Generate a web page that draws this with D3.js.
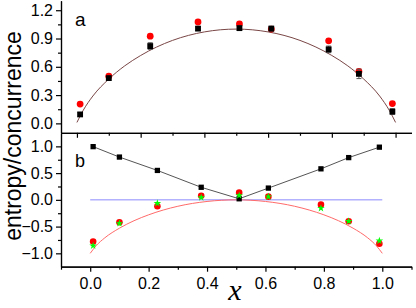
<!DOCTYPE html>
<html>
<head>
<meta charset="utf-8">
<script src="https://cdn.jsdelivr.net/npm/d3@7"></script>
<style>
  body { margin: 0; background: #fff; }
  text { font-family: "Liberation Sans", Arial, sans-serif; }
  .axis path, .axis line { stroke: #000; stroke-width: 1.2; }
</style>
</head>
<body>
<div id="chart"></div>
<script>
// Data
var xs = [0.01, 0.1, 0.23, 0.38, 0.51, 0.61, 0.79, 0.885, 0.99];

// panel a
var redA = [0.205, 0.50, 0.925, 1.075, 1.055, 1.00, 0.875, 0.55, 0.21];
var blackA = [0.095, 0.48, 0.82, 1.005, 1.01, 1.005, 0.785, 0.525, 0.125];
var errA = [0.02, 0.02, 0.035, 0.02, 0.025, 0.025, 0.035, 0.05, 0.03];
var curveX = [0, 0.02, 0.05, 0.1, 0.15, 0.2, 0.3, 0.4, 0.5, 0.6, 0.7, 0.8, 0.85, 0.9, 0.95, 0.98, 1];
var curveA = [0.01, 0.14, 0.29, 0.47, 0.61, 0.72, 0.88, 0.97, 1.0, 0.97, 0.88, 0.72, 0.61, 0.47, 0.29, 0.14, 0.01];

// panel b
var blackB = [0.995, 0.80, 0.55, 0.235, 0.02, 0.22, 0.58, 0.79, 0.985];
var redB = [-0.78, -0.42, -0.12, 0.075, 0.135, 0.06, -0.09, -0.40, -0.82];
var greenB = [-0.86, -0.44, -0.065, 0.045, 0.08, 0.06, -0.155, -0.40, -0.765];
var curveB = [-1.0, -0.86, -0.71, -0.53, -0.39, -0.28, -0.12, -0.03, 0, -0.03, -0.12, -0.28, -0.39, -0.53, -0.71, -0.86, -1.0];
var zeroX = [0, 1];
var zeroY = [0, 0];

var yTicksA = [0, 0.3, 0.6, 0.9, 1.2];
var yTicksB = [-1.0, -0.5, 0, 0.5, 1.0];
var xTicks = [0, 0.2, 0.4, 0.6, 0.8, 1.0];

var width = 416, height = 308;

var svg = d3.select("#chart").append("svg")
  .attr("width", width)
  .attr("height", height);

// Scales
var xa = d3.scaleLinear().domain([-0.05, 1.05]).range([61, 411.5]);
var xb = d3.scaleLinear().domain([-0.1, 1.1]).range([61, 411.5]);
var ya = d3.scaleLinear().domain([-0.1, 1.3]).range([132.8, 0.8]);
var yb = d3.scaleLinear().domain([-1.25, 1.25]).range([266.7, 133]);

var fmt = d3.format(".1f");

// ---- axes panel a
var gA = svg.append("g");
gA.append("g").attr("class", "axis")
  .attr("transform", "translate(61,0)")
  .call(d3.axisLeft(ya).tickValues(yTicksA).tickSize(5).tickSizeOuter(0).tickPadding(3).tickFormat(fmt))
  .call(function(g){ g.selectAll("text").style("font-size", "16px").attr("fill", "#000"); });
gA.append("g").attr("class", "axis")
  .attr("transform", "translate(61,0)")
  .call(d3.axisLeft(ya).tickValues([0.15, 0.45, 0.75, 1.05]).tickSize(3).tickSizeOuter(0).tickFormat(""));
gA.append("g").attr("class", "axis")
  .attr("transform", "translate(0," + ya(-0.1) + ")")
  .call(d3.axisBottom(xa).tickValues(xTicks).tickSize(5).tickSizeOuter(0).tickFormat(""));
gA.append("g").attr("class", "axis")
  .attr("transform", "translate(0," + ya(-0.1) + ")")
  .call(d3.axisBottom(xa).tickValues([0.1, 0.3, 0.5, 0.7, 0.9]).tickSize(3).tickSizeOuter(0).tickFormat(""));

// ---- axes panel b
var gB = svg.append("g");
gB.append("g").attr("class", "axis")
  .attr("transform", "translate(61,0)")
  .call(d3.axisLeft(yb).tickValues(yTicksB).tickSize(5).tickSizeOuter(0).tickPadding(3).tickFormat(fmt))
  .call(function(g){ g.selectAll("text").style("font-size", "16px").attr("fill", "#000"); });
gB.append("g").attr("class", "axis")
  .attr("transform", "translate(61,0)")
  .call(d3.axisLeft(yb).tickValues([-0.75, -0.25, 0.25, 0.75]).tickSize(3).tickSizeOuter(0).tickFormat(""));
gB.append("g").attr("class", "axis")
  .attr("transform", "translate(0," + yb(-1.25) + ")")
  .call(d3.axisBottom(xb).tickValues(xTicks).tickSize(5).tickSizeOuter(0).tickPadding(6).tickFormat(fmt))
  .call(function(g){ g.selectAll("text").style("font-size", "16px").attr("fill", "#000"); });
gB.append("g").attr("class", "axis")
  .attr("transform", "translate(0," + yb(-1.25) + ")")
  .call(d3.axisBottom(xb).tickValues([-0.1, 0.1, 0.3, 0.5, 0.7, 0.9, 1.1]).tickSize(3).tickSizeOuter(0).tickFormat(""));

// ---- panel a marks
var lineA = d3.line()
  .x(function(d){ return xa(d[0]); })
  .y(function(d){ return ya(d[1]); })
  .curve(d3.curveMonotoneX);

gA.append("path")
  .datum(d3.zip(curveX, curveA))
  .attr("d", lineA)
  .attr("fill", "none")
  .attr("stroke", "#7a4646")
  .attr("stroke-width", 1);

gA.selectAll(".redA").data(d3.zip(xs, redA)).enter().append("circle")
  .attr("cx", function(d){ return xa(d[0]); })
  .attr("cy", function(d){ return ya(d[1]); })
  .attr("r", 3.4)
  .attr("fill", "#ff0000");

var err = gA.selectAll(".err").data(d3.zip(xs, blackA, errA)).enter().append("g")
  .attr("stroke", "#555").attr("stroke-width", 1);
err.append("line")
  .attr("x1", function(d){ return xa(d[0]); })
  .attr("x2", function(d){ return xa(d[0]); })
  .attr("y1", function(d){ return ya(d[1] - d[2]); })
  .attr("y2", function(d){ return ya(d[1] + d[2]); });
err.append("line")
  .attr("x1", function(d){ return xa(d[0]) - 2.5; })
  .attr("x2", function(d){ return xa(d[0]) + 2.5; })
  .attr("y1", function(d){ return ya(d[1] - d[2]); })
  .attr("y2", function(d){ return ya(d[1] - d[2]); });
err.append("line")
  .attr("x1", function(d){ return xa(d[0]) - 2.5; })
  .attr("x2", function(d){ return xa(d[0]) + 2.5; })
  .attr("y1", function(d){ return ya(d[1] + d[2]); })
  .attr("y2", function(d){ return ya(d[1] + d[2]); });

var square = d3.symbol().type(d3.symbolSquare);
gA.selectAll(".blackA").data(d3.zip(xs, blackA)).enter().append("path")
  .attr("d", square.size(34)())
  .attr("transform", function(d){ return "translate(" + xa(d[0]) + "," + ya(d[1]) + ")"; })
  .attr("fill", "#000");

// ---- panel b marks
var lineB = d3.line()
  .x(function(d){ return xb(d[0]); })
  .y(function(d){ return yb(d[1]); });

gB.append("path")
  .datum(d3.zip(zeroX, zeroY))
  .attr("d", lineB)
  .attr("fill", "none")
  .attr("stroke", "#8a8aff")
  .attr("stroke-width", 1);

gB.append("path")
  .datum(d3.zip(curveX, curveB))
  .attr("d", lineB.curve(d3.curveMonotoneX))
  .attr("fill", "none")
  .attr("stroke", "#ff6a6a")
  .attr("stroke-width", 1);

gB.append("path")
  .datum(d3.zip(xs, blackB))
  .attr("d", d3.line().x(function(d){ return xb(d[0]); }).y(function(d){ return yb(d[1]); }))
  .attr("fill", "none")
  .attr("stroke", "#555")
  .attr("stroke-width", 1);

gB.selectAll(".blackB").data(d3.zip(xs, blackB)).enter().append("path")
  .attr("d", d3.symbol().type(d3.symbolSquare).size(28)())
  .attr("transform", function(d){ return "translate(" + xb(d[0]) + "," + yb(d[1]) + ")"; })
  .attr("fill", "#000");

gB.selectAll(".redB").data(d3.zip(xs, redB)).enter().append("circle")
  .attr("cx", function(d){ return xb(d[0]); })
  .attr("cy", function(d){ return yb(d[1]); })
  .attr("r", 3.3)
  .attr("fill", "#ff0000");

gB.selectAll(".greenB").data(d3.zip(xs, greenB)).enter().append("path")
  .attr("d", d3.symbol().type(d3.symbolStar).size(18)())
  .attr("transform", function(d){ return "translate(" + xb(d[0]) + "," + yb(d[1]) + ")"; })
  .attr("fill", "#00ff00");

// ---- labels
svg.append("text").attr("x", 75).attr("y", 26).style("font-size", "19px").text("a");
svg.append("text").attr("x", 75).attr("y", 167).style("font-size", "18px").text("b");

svg.append("text")
  .attr("transform", "translate(21,136) rotate(-90)")
  .attr("text-anchor", "middle")
  .style("font-size", "23px")
  .text("entropy/concurrence");

svg.append("text")
  .attr("x", 235).attr("y", 300)
  .attr("text-anchor", "middle")
  .style("font-family", "'Liberation Serif', 'Times New Roman', serif")
  .style("font-style", "italic")
  .style("font-size", "30px")
  .text("x");
</script>
</body>
</html>
